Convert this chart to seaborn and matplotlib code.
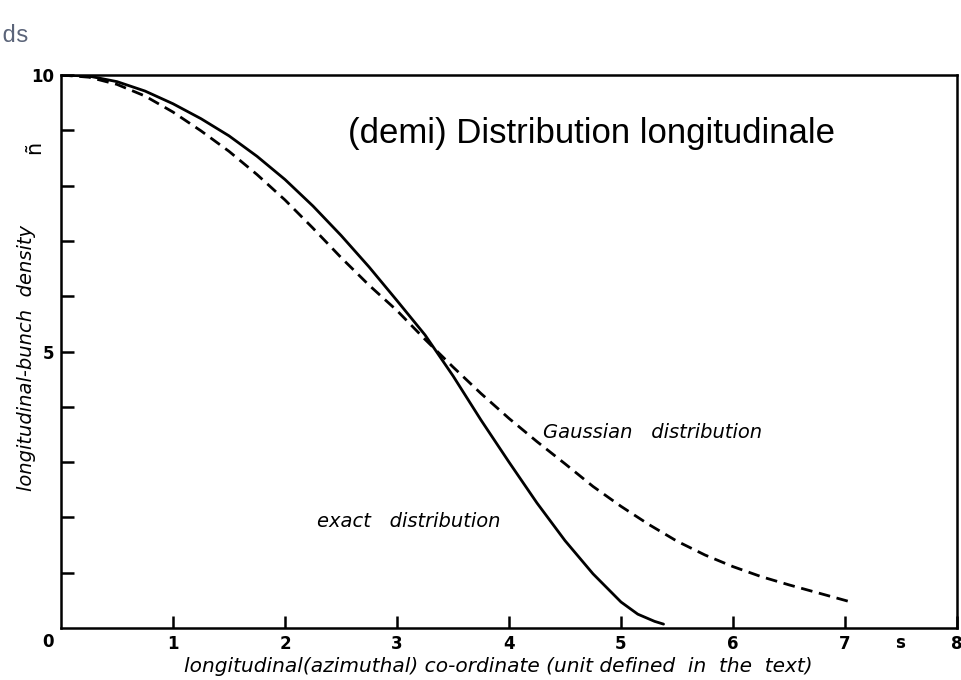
import matplotlib
matplotlib.use("Agg")
import matplotlib.pyplot as plt
import seaborn as sns
import pandas as pd

# Data
exact_x = [0.0, 0.25, 0.5, 0.75, 1.0, 1.25, 1.5, 1.75, 2.0, 2.25, 2.5, 2.75, 3.0,
           3.25, 3.5, 3.75, 4.0, 4.25, 4.5, 4.75, 5.0, 5.15, 5.3, 5.38]
exact_y = [10.0, 9.98, 9.88, 9.71, 9.48, 9.21, 8.90, 8.53, 8.11, 7.63, 7.10, 6.53, 5.92,
           5.30, 4.56, 3.76, 3.00, 2.26, 1.58, 0.98, 0.47, 0.25, 0.12, 0.07]
gauss_x = [0.0, 0.25, 0.5, 0.75, 1.0, 1.25, 1.5, 1.75, 2.0, 2.25, 2.5, 2.75, 3.0,
           3.25, 3.5, 3.75, 4.0, 4.25, 4.5, 4.75, 5.0, 5.25, 5.5, 5.75, 6.0, 6.25,
           6.5, 6.75, 7.0, 7.07]
gauss_y = [10.0, 9.96, 9.83, 9.62, 9.33, 8.99, 8.62, 8.20, 7.74, 7.23, 6.70, 6.20, 5.74,
           5.22, 4.72, 4.24, 3.79, 3.37, 2.97, 2.56, 2.20, 1.87, 1.57, 1.32, 1.11, 0.93,
           0.78, 0.64, 0.50, 0.46]
x_ticks = [1, 2, 3, 4, 5, 6, 7, 8]
x_ticklabels = ["1", "2", "3", "4", "5", "6", "7", "8"]
y_ticks = [1, 2, 3, 4, 5, 6, 7, 8, 9, 10]
y_ticklabels = ["", "", "", "", "5", "", "", "", "", "10"]

sns.set_style("ticks")
plt.rcParams["font.family"] = ["DejaVu Sans"]
plt.rcParams["text.color"] = "black"
plt.rcParams["xtick.color"] = "black"
plt.rcParams["ytick.color"] = "black"
plt.rcParams["xtick.labelcolor"] = "black"
plt.rcParams["ytick.labelcolor"] = "black"

W, H = 962, 680
fig = plt.figure(figsize=(W / 100, H / 100), dpi=100)
ax = fig.add_axes([61 / W, 1 - 628 / H, 896 / W, 553 / H])

df_exact = pd.DataFrame({"x": exact_x, "y": exact_y})
df_gauss = pd.DataFrame({"x": gauss_x, "y": gauss_y})
sns.lineplot(data=df_exact, x="x", y="y", ax=ax, color="black", lw=2.0,
             sort=False, estimator=None)
sns.lineplot(data=df_gauss, x="x", y="y", ax=ax, color="black", lw=2.0,
             sort=False, estimator=None)
ax.lines[-1].set_dashes((4.2, 2.4))
for ln in ax.lines:
    ln.set_solid_joinstyle("round")
    ln.set_dash_joinstyle("round")

ax.set_xlim(0, 8)
ax.set_ylim(0, 10)
for s in ax.spines.values():
    s.set_linewidth(1.8)
    s.set_color("black")

ax.set_xticks(x_ticks)
ax.set_xticklabels(x_ticklabels)
ax.set_yticks(y_ticks)
ax.set_yticklabels(y_ticklabels)
ax.tick_params(direction="in", length=9, width=1.8, labelsize=12, pad=5,
               colors="black")
for lab in ax.get_xticklabels() + ax.get_yticklabels():
    lab.set_fontweight("bold")
ax.set_xlabel("")
ax.set_ylabel("")

# corner zero and the 's' symbol
fig.text(48 / W, 1 - 642 / H, "0", ha="center", va="center", fontsize=12, fontweight="bold")
fig.text(900 / W, 1 - 643 / H, "s", ha="center", va="center", fontsize=12, fontweight="bold")

# axis titles
fig.text(184 / W, 1 - 667 / H,
         "longitudinal(azimuthal) co-ordinate (unit defined  in  the  text)",
         ha="left", va="center", fontsize=14.5, style="italic")
fig.text(27 / W, 1 - 358 / H, "longitudinal-bunch  density", rotation=90,
         ha="center", va="center", fontsize=14, style="italic")
fig.text(34 / W, 1 - 147 / H, "ñ", rotation=90, ha="center", va="center", fontsize=15)

# annotations
ax.text(4.30, 3.53, "Gaussian   distribution", ha="left", va="center",
        fontsize=14, style="italic")
ax.text(2.29, 1.92, "exact   distribution", ha="left", va="center",
        fontsize=14, style="italic")
fig.text(348 / W, 1 - 133 / H, "(demi) Distribution longitudinale", ha="left",
         va="center", fontsize=25, family=["Liberation Sans", "DejaVu Sans"])
fig.text(1 / W, 1 - 35 / H, "ds", ha="left", va="center", fontsize=17,
         family=["Liberation Mono", "DejaVu Sans Mono"], color="#5b6479")

fig.savefig("out.png", dpi=100)
